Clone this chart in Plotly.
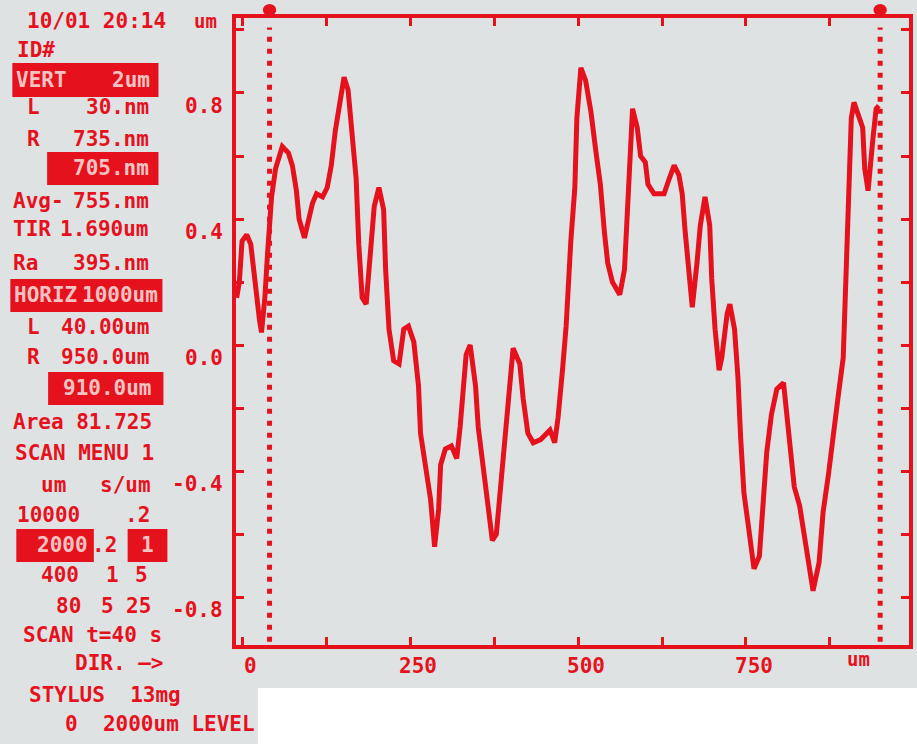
import plotly.graph_objects as go

# ---- surface profile (um along scan, height in um) ----
profile_x_um = [
    -9, -5, -1, 6, 12, 16, 21, 25, 28, 33,
    37, 43, 49, 59, 68, 74, 80, 84, 92, 98,
    104, 110, 119, 126, 132, 138, 144, 151, 157, 162,
    169, 173, 178, 184, 190, 196, 203, 210, 213, 218,
    225, 233, 240, 247, 255, 262, 265, 273, 280, 286,
    292, 295, 302, 311, 319, 324, 329, 333, 339, 347,
    351, 359, 366, 372, 378, 385, 391, 396, 403, 413,
    418, 425, 433, 444, 458, 465, 470, 477, 482, 489,
    495, 498, 504, 511, 519, 526, 533, 539, 544, 551,
    562, 569, 572, 576, 581, 588, 593, 600, 604, 613,
    628, 636, 643, 650, 655, 659, 665, 670, 677, 682,
    689, 696, 699, 704, 710, 714, 722, 726, 733, 738,
    742, 747, 754, 762, 770, 776, 781, 788, 796, 806,
    810, 815, 822, 830, 837, 844, 850, 859, 865, 873,
    880, 887, 895, 899, 904, 907, 911, 919, 924, 927,
    932, 939, 944, 948,
]
profile_z_um = [
    0.15, 0.20, 0.33, 0.35, 0.32, 0.24, 0.15, 0.08, 0.04, 0.15,
    0.29, 0.47, 0.56, 0.63, 0.61, 0.57, 0.49, 0.40, 0.34, 0.39,
    0.45, 0.48, 0.47, 0.50, 0.57, 0.68, 0.76, 0.85, 0.81, 0.69,
    0.53, 0.32, 0.15, 0.13, 0.29, 0.44, 0.50, 0.43, 0.24, 0.05,
    -0.05, -0.06, 0.05, 0.06, 0.01, -0.13, -0.28, -0.39, -0.49, -0.64,
    -0.52, -0.38, -0.33, -0.32, -0.36, -0.26, -0.14, -0.03, 0.00, -0.13,
    -0.26, -0.41, -0.52, -0.62, -0.60, -0.43, -0.29, -0.14, -0.01, -0.06,
    -0.17, -0.28, -0.31, -0.30, -0.27, -0.31, -0.23, -0.07, 0.06, 0.33,
    0.50, 0.72, 0.88, 0.84, 0.74, 0.62, 0.51, 0.36, 0.26, 0.20,
    0.16, 0.24, 0.39, 0.59, 0.75, 0.69, 0.60, 0.58, 0.51, 0.48,
    0.48, 0.53, 0.57, 0.54, 0.48, 0.37, 0.21, 0.12, 0.26, 0.38,
    0.47, 0.38, 0.21, 0.05, -0.08, -0.04, 0.10, 0.13, 0.05, -0.10,
    -0.29, -0.47, -0.58, -0.71, -0.67, -0.50, -0.34, -0.22, -0.14, -0.12,
    -0.20, -0.31, -0.45, -0.51, -0.60, -0.71, -0.78, -0.69, -0.53, -0.41,
    -0.28, -0.17, -0.04, 0.20, 0.47, 0.72, 0.77, 0.72, 0.69, 0.56,
    0.49, 0.65, 0.75, 0.76,
]

# cursor positions (um)
cursor_left_um = 40
cursor_right_um = 950

# axis ticks and labels
x_tick_vals = [0, 125, 250, 375, 500, 625, 750, 875]
x_label_vals = [0, 250, 500, 750]
x_label_text = ["0", "250", "500", "750"]
y_tick_vals = [-0.8, -0.6, -0.4, -0.2, 0.0, 0.2, 0.4, 0.6, 0.8, 1.0]
y_label_vals = [0.8, 0.4, 0.0, -0.4, -0.8]
y_label_text = ["0.8", "0.4", "0.0", "-0.4", "-0.8"]

# readout panel: (text, x_px, y_px, anchor, inverse)
panel_text = [
    ("10/01 20:14", 24, 21, "left", False),
    ("ID#", 14, 50, "left", False),
    ("VERT", 13, 80, "left", True),
    ("2um", 152, 80, "right", True),
    ("L", 24, 107, "left", False),
    ("30.nm", 150, 107, "right", False),
    ("R", 24, 139, "left", False),
    ("735.nm", 150, 139, "right", False),
    ("705.nm", 150, 168, "right", True),
    ("Avg-", 10, 201, "left", False),
    ("755.nm", 150, 201, "right", False),
    ("TIR", 10, 229, "left", False),
    ("1.690um", 150, 229, "right", False),
    ("Ra", 10, 263, "left", False),
    ("395.nm", 150, 263, "right", False),
    ("HORIZ", 11, 295, "left", True),
    ("1000um", 160, 295, "right", True),
    ("L", 24, 327, "left", False),
    ("40.00um", 152, 327, "right", False),
    ("R", 24, 357, "left", False),
    ("950.0um", 152, 357, "right", False),
    ("910.0um", 154, 388, "right", True),
    ("Area 81.725", 10, 422, "left", False),
    ("SCAN MENU 1", 12, 453, "left", False),
    ("um", 38, 485, "left", False),
    ("s/um", 153, 485, "right", False),
    ("10000", 14, 515, "left", False),
    (".2", 152, 515, "right", False),
    ("2000", 89, 545, "right", True),
    (".2", 118, 545, "right", False),
    ("1", 147, 545, "center", True),
    ("400", 80, 575, "right", False),
    ("1", 112, 575, "center", False),
    ("5", 141, 575, "center", False),
    ("80", 82, 606, "right", False),
    ("5", 107, 606, "center", False),
    ("25", 153, 606, "right", False),
    ("SCAN t=40 s", 20, 635, "left", False),
    ("DIR. \u2014>", 72, 663, "left", False),
    ("STYLUS  13mg", 26, 695, "left", False),
    ("0  2000um LEVEL", 62, 724, "left", False),
]
# inverse-video boxes (x0, x1, y0, y1 in px)
panel_boxes = [
    (11, 158, 63, 97),
    (46, 158, 152, 185),
    (9, 162, 279, 312),
    (47, 163, 372, 405),
    (15, 93, 529, 562),
    (127, 167, 529, 562),
]

RED = "#e5121e"
BG = "#dfe2e3"
INV = "#f3c3c3"
FONT = "DejaVu Sans Mono"

W, H = 917, 744
ML, MR, MT, MB = 236, 4, 18, 99
PL, PR, PT, PB = ML, W - MR, MT, H - MB


def fx(px):
    return (px - PL) / (PR - PL)


def fy(py):
    return (PB - py) / (PB - PT)


fig = go.Figure()
fig.add_trace(go.Scatter(
    x=profile_x_um, y=profile_z_um, mode="lines",
    line=dict(color=RED, width=5), hoverinfo="skip", showlegend=False,
))

shapes = []
# dotted cursor lines
for cx in (cursor_left_um, cursor_right_um):
    shapes.append(dict(type="line", xref="x", yref="paper", x0=cx, x1=cx,
                       y0=0.005, y1=0.985, line=dict(color=RED, width=5, dash="5px,7px")))
    shapes.append(dict(type="circle", xref="x", yref="paper",
                       x0=cx - 10, x1=cx + 10, y0=fy(16), y1=fy(4),
                       fillcolor=RED, line=dict(width=0)))
# inverse-video boxes
for x0, x1, y0, y1 in panel_boxes:
    shapes.append(dict(type="rect", xref="paper", yref="paper",
                       x0=fx(x0), x1=fx(x1), y0=fy(y1), y1=fy(y0),
                       fillcolor=RED, line=dict(width=0), layer="above"))
# blank strip under the chart
shapes.append(dict(type="rect", xref="paper", yref="paper",
                   x0=fx(258), x1=fx(W + 5), y0=fy(H + 5), y1=fy(688),
                   fillcolor="#ffffff", line=dict(width=0), layer="above"))

ann = []
for text, x, y, anchor, inv in panel_text:
    ann.append(dict(text=text, xref="paper", yref="paper", x=fx(x), y=fy(y),
                    xanchor=anchor, yanchor="middle", showarrow=False,
                    font=dict(family=FONT, size=21, color=INV if inv else RED, weight="bold")))
for v, t in zip(y_label_vals, y_label_text):
    ann.append(dict(text=t, xref="paper", yref="y", x=fx(225), y=v, yshift=-13,
                    xanchor="right", yanchor="middle", showarrow=False,
                    font=dict(family=FONT, size=21, color=RED, weight="bold")))
for v, t in zip(x_label_vals, x_label_text):
    ann.append(dict(text=t, xref="x", yref="paper", x=v, y=fy(666), xshift=8,
                    xanchor="center", yanchor="middle", showarrow=False,
                    font=dict(family=FONT, size=21, color=RED, weight="bold")))
ann.append(dict(text="um", xref="x", yref="paper", x=917, y=fy(659),
                xanchor="center", yanchor="middle", showarrow=False,
                font=dict(family=FONT, size=19, color=RED, weight="bold")))
ann.append(dict(text="um", xref="paper", yref="paper", x=fx(205), y=fy(21),
                xanchor="center", yanchor="middle", showarrow=False,
                font=dict(family=FONT, size=19, color=RED, weight="bold")))

axis_common = dict(showgrid=False, zeroline=False, showline=True, linecolor=RED,
                   linewidth=4, mirror="ticks", ticks="inside", ticklen=8,
                   tickwidth=3, tickcolor=RED, showticklabels=False, fixedrange=True)

fig.update_layout(
    width=W, height=H, autosize=False,
    margin=dict(l=ML, r=MR, t=MT, b=MB, pad=0),
    paper_bgcolor=BG, plot_bgcolor=BG,
    xaxis=dict(range=[-10, 993], tickvals=x_tick_vals, **axis_common),
    yaxis=dict(range=[-0.952, 1.038], tickvals=y_tick_vals, **axis_common),
    shapes=shapes, annotations=ann, showlegend=False,
)

fig.write_html("out.html", config={"displayModeBar": False})
